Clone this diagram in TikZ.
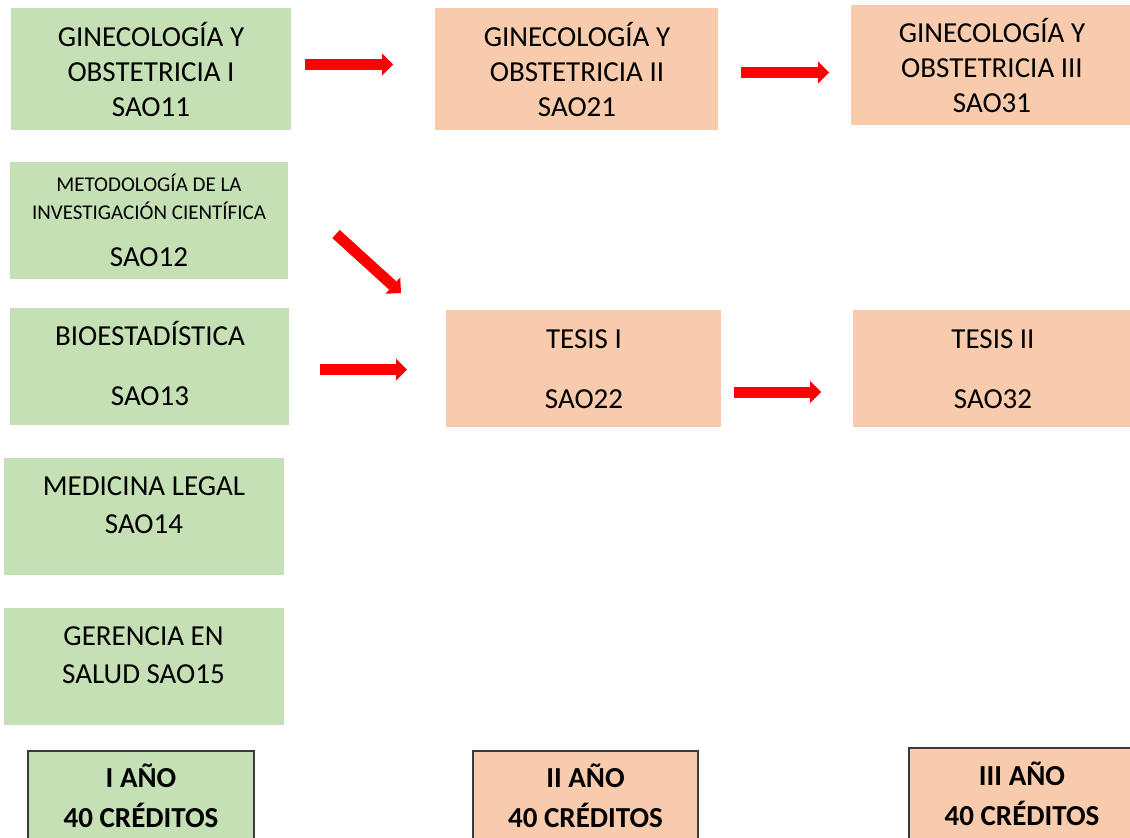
\documentclass[tikz,border=0pt]{standalone}
\usepackage{fontspec}
\setmainfont{Carlito}
\usetikzlibrary{fit,arrows.meta}
\definecolor{boxgreen}{HTML}{C5E0B4}
\definecolor{boxorange}{HTML}{F8CBAD}
\definecolor{rim}{HTML}{3A3A3A}
\begin{document}
\begin{tikzpicture}[x=1pt,y=-1pt,
  greenbox/.style={fill=boxgreen, draw=none, inner sep=0pt},
  orangebox/.style={fill=boxorange, draw=none, inner sep=0pt},
  yearbox/.style={draw=rim, line width=1.5pt, inner sep=0pt},
  txt/.style={align=center, inner sep=0pt, text=black,
    execute at end node=\strut},
  big/.style={txt, font=\fontsize{29}{35}\selectfont},
  small/.style={txt, font=\fontsize{21}{28}\selectfont},
  wide/.style={txt, font=\fontsize{29}{60}\selectfont},
  mid/.style={txt, font=\fontsize{29}{38}\selectfont},
  yeartxt/.style={txt, font=\fontsize{29}{40}\selectfont\bfseries},
  flow/.style={draw=red, line width=11pt,
    -{Triangle[length=11pt,width=22pt,line width=0pt]}}]
\useasboundingbox (0,0) rectangle (1130,838);
\clip (0,0) rectangle (1130,838);

% boxes
\node[greenbox, fit={(11,8) (291,130)}] (g1) {};
\node[orangebox, fit={(435,8) (718,130)}] (g2) {};
\node[orangebox, fit={(851,5) (1130,125)}] (g3) {};
\node[greenbox, fit={(10,162) (288,279)}] (m12) {};
\node[greenbox, fit={(10,308) (289,425)}] (b13) {};
\node[orangebox, fit={(446,310) (721,427)}] (t1) {};
\node[orangebox, fit={(853,310) (1130,427)}] (t2) {};
\node[greenbox, fit={(4,458) (284,575)}] (ml) {};
\node[greenbox, fit={(4,608) (284,725)}] (gs) {};
\node[yearbox, fill=boxgreen, fit={(28,751) (254,848)}] (y1) {};
\node[yearbox, fill=boxorange, fit={(473,751) (698,848)}] (y2) {};
\node[yearbox, fill=boxorange, fit={(909,748) (1138,848)}] (y3) {};

% texts
\node[big] (g1t) at (151,74.3) {\strut GINECOLOGÍA Y\\OBSTETRICIA I\\SAO11};
\node[big] (g2t) at (577,74.3) {\strut GINECOLOGÍA Y\\OBSTETRICIA II\\SAO21};
\node[big] (g3t) at (992,70.3) {\strut GINECOLOGÍA Y\\OBSTETRICIA III\\SAO31};
\node[small] (m12t) at (149,200) {\strut METODOLOGÍA DE LA\\INVESTIGACIÓN CIENTÍFICA};
\node[big] (m12c) at (149,259.3) {\strut SAO12};
\node[wide] (b13t) at (150,363.3) {\strut BIOESTADÍSTICA\\SAO13};
\node[wide] (t1t) at (584,366.3) {\strut TESIS I\\SAO22};
\node[wide] (t2t) at (993,366.3) {\strut TESIS II\\SAO32};
\node[mid] (mlt) at (144,506.7) {\strut MEDICINA LEGAL\\SAO14};
\node[mid] (gst) at (143.5,656.7) {\strut GERENCIA EN\\SALUD SAO15};
\node[yeartxt] (y1t) at (141,799.3) {\strut I AÑO\\40 CRÉDITOS};
\node[yeartxt] (y2t) at (585.5,799.3) {\strut II AÑO\\40 CRÉDITOS};
\node[yeartxt] (y3t) at (1022,797.8) {\strut III AÑO\\40 CRÉDITOS};

% arrows
\coordinate (a1s) at (305,64.5);  \coordinate (a1e) at (393,64.5);
\coordinate (a2s) at (741,72.5);  \coordinate (a2e) at (829,72.5);
\coordinate (a3s) at (336,234);   \coordinate (a3e) at (401,293);
\coordinate (a4s) at (320,369.5); \coordinate (a4e) at (407,369.5);
\coordinate (a5s) at (734,392);   \coordinate (a5e) at (821,392);
\draw[flow] (a1s) -- (a1e);
\draw[flow] (a2s) -- (a2e);
\draw[flow] (a3s) -- (a3e);
\draw[flow] (a4s) -- (a4e);
\draw[flow] (a5s) -- (a5e);
\end{tikzpicture}
\end{document}
